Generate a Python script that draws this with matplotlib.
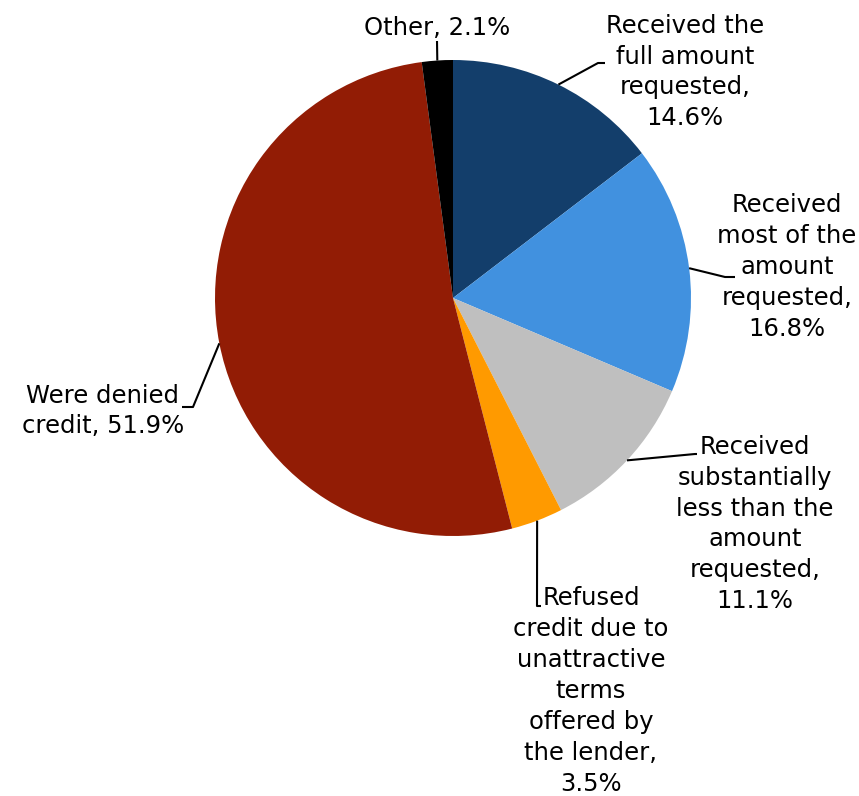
import numpy as np
import matplotlib.pyplot as plt

# Outcome of credit applications (% of applicants)
categories = [
    "Received the\nfull amount\nrequested,",
    "Received\nmost of the\namount\nrequested,",
    "Received\nsubstantially\nless than the\namount\nrequested,",
    "Refused\ncredit due to\nunattractive\nterms\noffered by\nthe lender,",
    "Were denied\ncredit,",
    "Other,",
]
shares = [14.6, 16.8, 11.1, 3.5, 51.9, 2.1]
colors = ["#133e6b", "#4191df", "#bfbfbf", "#ff9a00", "#921c05", "#000000"]

W, H = 859, 796
cx, cy, R = 453, H - 298, 238

fig = plt.figure(figsize=(W / 100, H / 100), dpi=100)
ax = fig.add_axes([0, 0, 1, 1])

wedges, _ = ax.pie(shares, colors=colors, startangle=90, counterclock=False,
                   center=(cx, cy), radius=R, frame=True)
ax.set_xlim(0, W)
ax.set_ylim(0, H)
ax.set_aspect("equal")
ax.axis("off")

# label layout: (text x, text y, elbow point, stub end) in pixels from top-left
layout = [
    (685, 72, (598, 63), (605, 63)),
    (787, 267, (725, 277), (735, 277)),
    (755, 524, (695, 454), (697, 454)),
    (591, 691, (537, 606), (541, 606)),
    (103, 411, (193, 407), (182, 407)),
    (437, 28, (437, 41), (437, 41)),
]

for w, name, val, (tx, ty, elbow, stub) in zip(wedges, categories, shares, layout):
    ang = np.deg2rad((w.theta1 + w.theta2) / 2)
    x0, y0 = cx + R * np.cos(ang), cy + R * np.sin(ang)
    if name.startswith("Other") or name.startswith("Were"):
        label = f"{name} {val}%"
    else:
        label = f"{name}\n{val}%"
    xs = [x0, elbow[0], stub[0]]
    ys = [y0, H - elbow[1], H - stub[1]]
    ax.plot(xs, ys, color="black", lw=1.5, solid_capstyle="butt")
    ax.text(tx, H - ty, label, ha="center", va="center", fontsize=17.5,
            family="DejaVu Sans", linespacing=1.36, color="black")

fig.savefig("out.png", dpi=100)
